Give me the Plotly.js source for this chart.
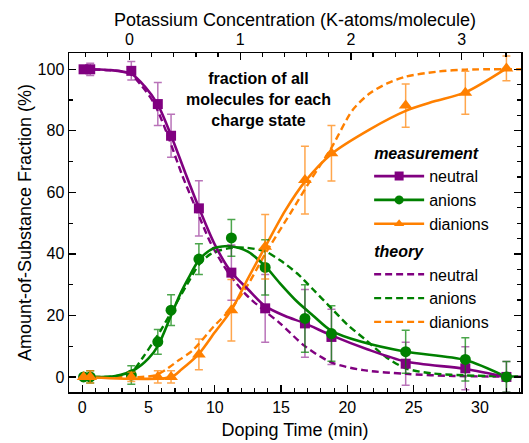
<!DOCTYPE html>
<html>
<head>
<meta charset="utf-8">
<script src="https://cdn.plot.ly/plotly-3.0.1.min.js"></script>
<style>html,body{margin:0;padding:0;background:#fff;}#chart{width:529px;height:443px;}</style>
</head>
<body>
<div id="chart"></div>
<script>
// ---- measured data (doping time in min, fraction in %) ----
var timeMeas   = [0.1, 0.6, 3.7, 5.7, 6.7, 8.8, 11.25, 13.8, 16.8, 18.8, 24.4, 28.9, 32.0];
var neutral    = [100, 100, 99.5, 88.7, 78.4, 54.8, 33.9, 22.3, 17.4, 13.0, 4.3, 2.8, 0];
var neutralErr = [0, 2, 3, 7, 7, 9, 9, 11, 11, 9, 7, 7, 5];
var anions     = [0, 0, 0.6, 11.4, 21.7, 38.3, 45.2, 35.6, 19.0, 14.1, 8.2, 5.7, 0];
var anionsErr  = [0, 2, 3, 4, 5, 5, 6, 9, 11, 9, 7, 7, 5];
var dianions   = [0, 0, 0, 0, 0, 7.3, 21.7, 42.3, 64.0, 72.7, 88.2, 92.4, 100.3];
var dianionsErr= [0, 2, 1.5, 2, 2, 5, 10, 10.5, 11, 9, 7, 7, 4];

var fitTimeN = [0.1, 2, 3.7, 4.7, 5.7, 6.7, 7.8, 8.8, 10, 11.25, 12.5, 13.8, 15.3, 16.8, 18.8, 21.5, 24.4, 28.9, 32];
var fitN     = [100, 99.8, 98.5, 94.5, 88.5, 78.5, 66, 55, 43, 34, 28.5, 23, 19.8, 17.4, 13.5, 9, 5, 2.6, 0];
var fitTimeA = [0.1, 2.5, 4, 5, 5.7, 6.7, 7.4, 8, 8.8, 9.9, 11.2, 12.5, 13.8, 14.9, 16.2, 17.4, 18.8, 21, 24.4, 28.9, 32];
var fitA     = [0, 0.3, 2.5, 6, 10, 20, 27, 32, 38, 41.8, 42.5, 40.7, 36, 30.5, 24.5, 20, 15, 11.5, 8.2, 5.5, 0];
var fitTimeD = [0.1, 6.7, 7.5, 8.8, 10, 11.25, 12.5, 13.8, 15.3, 16.8, 18.8, 21.7, 24.4, 26.5, 28.9, 32];
var fitD     = [0, 0, 2.5, 7.5, 14.5, 21.7, 32, 42.3, 54, 63.5, 72.5, 80.5, 86.5, 89.5, 92.5, 100.3];

// ---- theory curves ----
var thTimeN = [0, 2, 3.5, 4.5, 5.45, 6.45, 7.5, 8.55, 9.75, 11, 12.3, 13.6, 14.9, 16.8, 18.8, 21.2, 24.4, 28, 33.1];
var thN     = [100, 99.7, 98.8, 94.5, 88.7, 78.5, 66, 55, 43, 34, 27, 22, 17.5, 10, 4.7, 2.2, 1.0, 0.3, 0.1];
var thTimeA = [0, 2.5, 3.7, 4.6, 5.9, 6.9, 7.9, 8.8, 9.7, 11, 12.4, 13.8, 14.9, 16.2, 17.4, 18.8, 20, 21.4, 22.9, 24.4, 26.5, 28.9, 33.1];
var thA     = [0, 0.2, 1.5, 6.5, 15, 22.5, 30, 36.5, 40, 41.8, 42, 40.8, 38, 33.7, 28.5, 22.3, 17, 12, 6.5, 2.8, 1.1, 0.5, 0.1];
var thTimeD = [0, 4.5, 5.5, 6.25, 7.3, 8.3, 9.9, 11.25, 12.5, 13.8, 15.7, 17.2, 18.8, 20.4, 21.7, 23, 24.4, 26.7, 28.9, 33.1];
var thD     = [0, 0, 0.5, 2.2, 5.5, 8.5, 16.3, 22.3, 30, 40, 53.2, 63.8, 74.5, 86.8, 92.2, 95.4, 97.6, 99.2, 99.9, 100];

var seriesNames = ['neutral', 'anions', 'dianions'];
var topTickVals = [0, 1, 2, 3];

var PURPLE = '#800080', GREEN = '#008000', ORANGE = '#ff8000';
var PURPLE_E = 'rgba(128,0,128,0.55)', GREEN_E = 'rgba(0,128,0,0.7)', ORANGE_E = 'rgba(255,128,0,0.7)';
var FONT = 'Liberation Sans, Arial, Helvetica, sans-serif';
var DASH = '7px,4px';

function fitLine(x, y, c) {
  return {x: x, y: y, mode: 'lines', type: 'scatter', showlegend: false, hoverinfo: 'skip',
          line: {color: c, width: 2.6, shape: 'spline', smoothing: 0.8}};
}
function theoryLine(x, y, c, name, first) {
  var t = {x: x, y: y, mode: 'lines', type: 'scatter', name: name, legendgroup: 'theory',
           line: {color: c, width: 2.4, dash: DASH, shape: 'spline', smoothing: 0.8}};
  if (first) t.legendgrouptitle = {text: 'theory', font: {family: FONT, size: 16, weight: 'bold', style: 'italic', color: '#000'}};
  return t;
}
function meas(y, err, c, ec, sym, size) {
  return {x: timeMeas, y: y, mode: 'markers', type: 'scatter', showlegend: false,
          marker: {color: c, symbol: sym, size: size},
          error_y: {type: 'data', array: err, visible: true, color: ec, thickness: 1.5, width: 4}};
}
function legendMeas(c, sym, name, first) {
  var t = {x: [null], y: [null], xaxis: 'x2', yaxis: 'y2', mode: 'lines+markers', type: 'scatter',
           name: name, legendgroup: 'meas', line: {color: c, width: 2.6},
           marker: {color: c, symbol: sym, size: 9}};
  if (first) t.legendgrouptitle = {text: 'measurement', font: {family: FONT, size: 16, weight: 'bold', style: 'italic', color: '#000'}};
  return t;
}

var data = [
  legendMeas(PURPLE, 'square', seriesNames[0], true),
  legendMeas(GREEN, 'circle', seriesNames[1], false),
  legendMeas(ORANGE, 'triangle-up', seriesNames[2], false),
  theoryLine(thTimeN, thN, PURPLE, seriesNames[0], true),
  theoryLine(thTimeA, thA, GREEN, seriesNames[1], false),
  theoryLine(thTimeD, thD, ORANGE, seriesNames[2], false),
  fitLine(fitTimeN, fitN, PURPLE),
  fitLine(fitTimeA, fitA, GREEN),
  fitLine(fitTimeD, fitD, ORANGE),
  meas(neutral, neutralErr, PURPLE, PURPLE_E, 'square', 10),
  meas(anions, anionsErr, GREEN, GREEN_E, 'circle', 11),
  meas(dianions, dianionsErr, ORANGE, ORANGE_E, 'triangle-up', 12)
];

var xr = [-1, 33.1];
var kZeroTime = 3.565, minPerK = 8.352;
var axisCommon = {showline: true, linecolor: '#000', linewidth: 1.5, ticks: 'inside', ticklen: 7,
                  tickwidth: 1.3, tickcolor: '#000', showgrid: false, zeroline: false,
                  tickfont: {family: FONT, size: 16, color: '#000'}};

var layout = {
  width: 529, height: 443,
  margin: {l: 69, r: 8, t: 53, b: 51, pad: 0},
  paper_bgcolor: '#fff', plot_bgcolor: '#fff',
  font: {family: FONT, color: '#000'},
  xaxis: Object.assign({}, axisCommon, {
    range: xr, dtick: 5, tick0: 0,
    minor: {dtick: 1, ticks: 'inside', ticklen: 4, tickwidth: 1.2, tickcolor: '#000'},
    title: {text: 'Doping Time (min)', font: {family: FONT, size: 18, color: '#000'}, standoff: 8}
  }),
  xaxis2: Object.assign({}, axisCommon, {
    overlaying: 'x', side: 'top', anchor: 'y2',
    range: [(xr[0] - kZeroTime) / minPerK, (xr[1] - kZeroTime) / minPerK],
    tickvals: topTickVals, ticktext: topTickVals.map(String),
    minor: {dtick: 0.2, tick0: 0, ticks: 'inside', ticklen: 4, tickwidth: 1.2, tickcolor: '#000'},
    title: {text: 'Potassium Concentration (K-atoms/molecule)', font: {family: FONT, size: 18, color: '#000'}, standoff: 0}
  }),
  yaxis: Object.assign({}, axisCommon, {
    range: [-4.9, 105.3], dtick: 20, tick0: 0,
    minor: {dtick: 10, ticks: 'inside', ticklen: 4, tickwidth: 1.2, tickcolor: '#000'},
    title: {text: 'Amount-of-Substance Fraction (%)', font: {family: FONT, size: 18, color: '#000'}, standoff: 1}
  }),
  yaxis2: Object.assign({}, axisCommon, {
    overlaying: 'y', side: 'right', anchor: 'x2',
    range: [-4.9, 105.3], dtick: 20, tick0: 0, showticklabels: false,
    minor: {dtick: 5, ticks: 'inside', ticklen: 4, tickwidth: 1.2, tickcolor: '#000'}
  }),
  showlegend: true,
  legend: {x: 0.664, y: 0.757, xanchor: 'left', yanchor: 'top', bgcolor: 'rgba(0,0,0,0)',
           font: {family: FONT, size: 16, color: '#000'}, traceorder: 'grouped',
           tracegroupgap: 3, itemwidth: 50},
  annotations: [{
    xref: 'paper', yref: 'paper', x: 0.42, y: 0.862, xanchor: 'center', yanchor: 'middle',
    text: 'fraction of all<br>molecules for each<br>charge state', showarrow: false, align: 'center',
    font: {family: FONT, size: 16, weight: 'bold', color: '#000'}
  }]
};

Plotly.newPlot('chart', data, layout, {displayModeBar: false, staticPlot: true});
</script>
</body>
</html>
